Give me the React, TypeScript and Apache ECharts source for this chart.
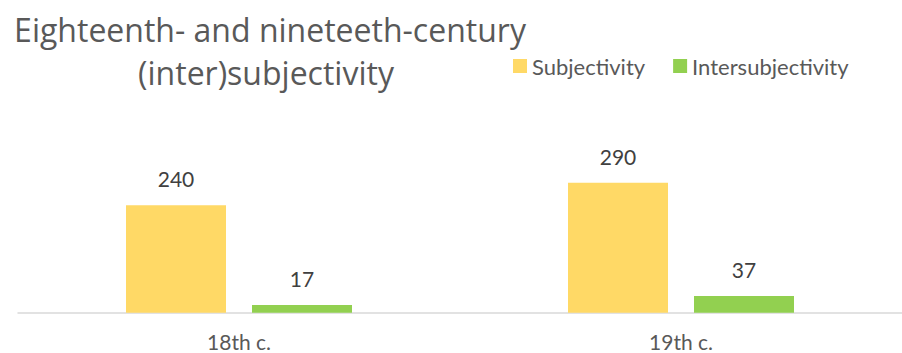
import React, { useEffect, useRef } from "react";
import * as echarts from "echarts";

const categories = ["18th c.", "19th c."];
const subjectivity = [240, 290];
const intersubjectivity = [17, 37];
const seriesNames = ["Subjectivity", "Intersubjectivity"];
const titleLines = ["Eighteenth- and nineteeth-century", "(inter)subjectivity"];

const FONT = "Lato";
const TITLE_FONT = "'Open Sans'";

export default function App() {
  const ref = useRef<HTMLDivElement>(null);
  useEffect(() => {
    if (!ref.current) return;
    const chart = echarts.init(ref.current, null, { renderer: "svg" });
    chart.setOption({
      animation: false,
      backgroundColor: "#ffffff",
      textStyle: { fontFamily: FONT },
      graphic: [
        {
          type: "text",
          x: 270,
          y: 45,
          style: {
            text: titleLines[0],
            textAlign: "center",
            textVerticalAlign: "bottom",
            font: `32px ${TITLE_FONT}`,
            fill: "#595959",
          },
        },
        {
          type: "text",
          x: 266,
          y: 88,
          style: {
            text: titleLines[1],
            textAlign: "center",
            textVerticalAlign: "bottom",
            font: `32px ${TITLE_FONT}`,
            fill: "#595959",
          },
        },
      ],
      legend: {
        left: 508,
        top: 50,
        icon: "rect",
        itemWidth: 14,
        itemHeight: 14,
        itemGap: 28,
        data: seriesNames,
        textStyle: { color: "#595959", fontSize: 22, lineHeight: 22, fontFamily: FONT },
      },
      grid: { left: 18, width: 895, top: 133.5, bottom: 40.3, containLabel: false },
      xAxis: {
        type: "category",
        data: categories,
        axisLine: { lineStyle: { color: "#d9d9d9", width: 1.5 } },
        axisTick: { show: false },
        axisLabel: { color: "#595959", fontSize: 21, lineHeight: 18, margin: 20, fontFamily: FONT },
      },
      yAxis: {
        type: "value",
        min: 0,
        max: 400,
        show: false,
        splitLine: { show: false },
      },
      series: [
        {
          name: seriesNames[0],
          type: "bar",
          data: subjectivity,
          barWidth: 100,
          barGap: "26%",
          itemStyle: { color: "#FFD966" },
          label: { show: true, position: "top", distance: 16, color: "#404040", fontSize: 21, fontFamily: FONT },
        },
        {
          name: seriesNames[1],
          type: "bar",
          data: intersubjectivity,
          barWidth: 100,
          barGap: "26%",
          itemStyle: { color: "#92D050" },
          label: { show: true, position: "top", distance: 16, color: "#404040", fontSize: 21, fontFamily: FONT },
        },
      ],
    });
    return () => chart.dispose();
  }, []);
  return (
    <div
      ref={ref}
      style={{ position: "absolute", left: 0, top: 0, width: 902, height: 353 }}
    />
  );
}
